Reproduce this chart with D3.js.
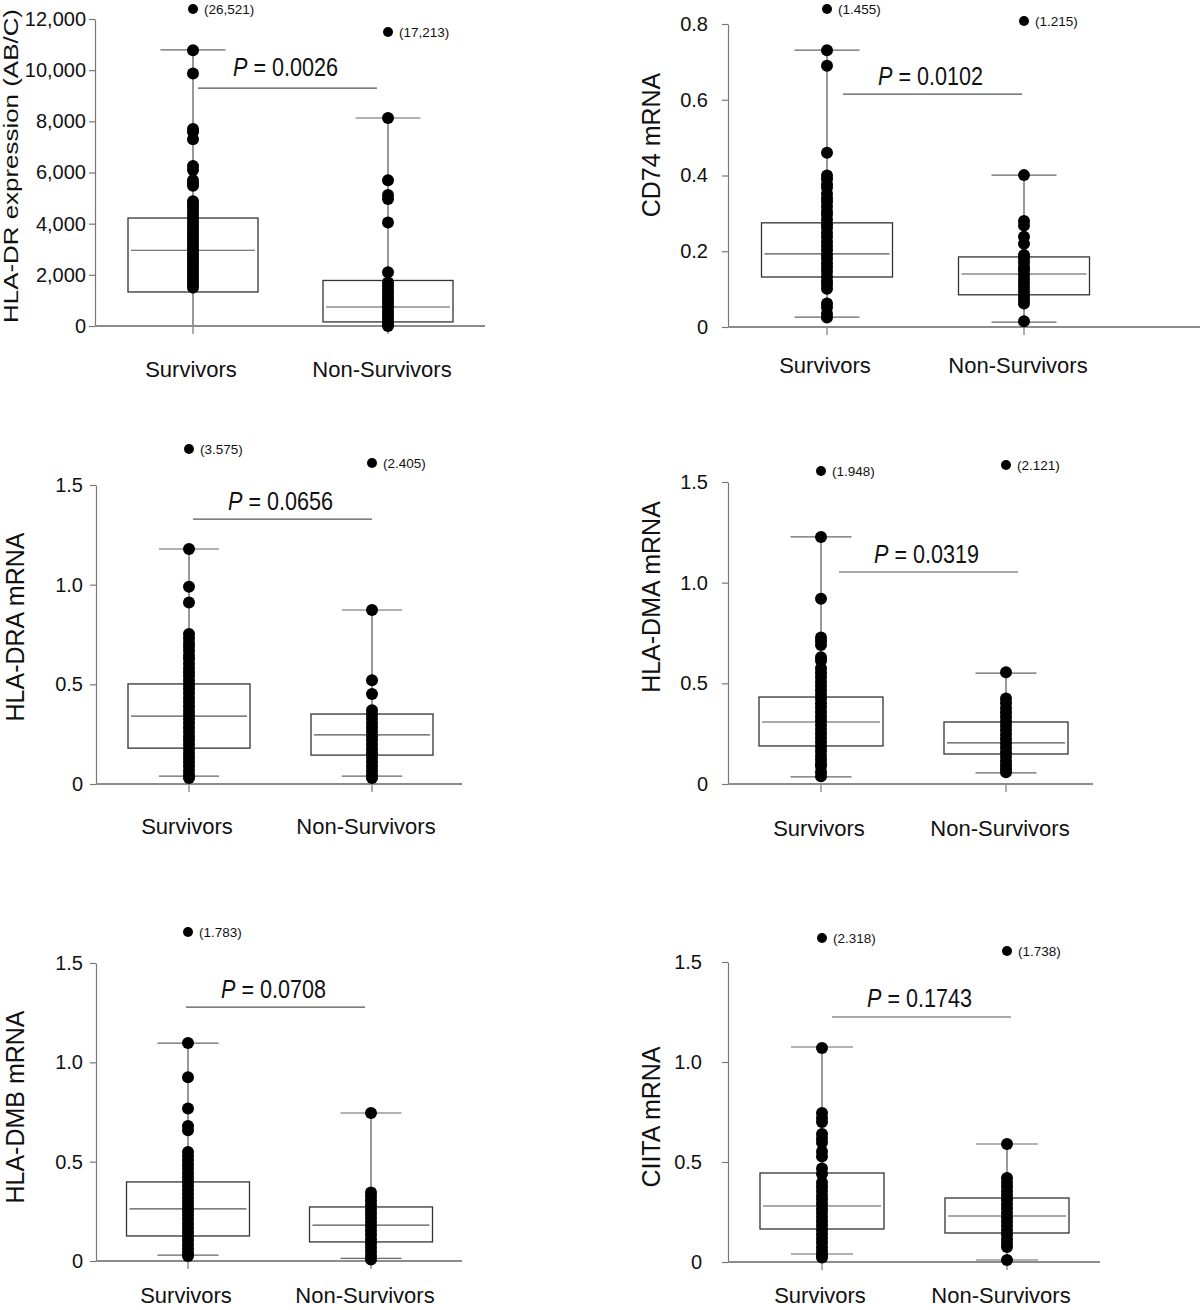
<!DOCTYPE html>
<html><head><meta charset="utf-8">
<script src="https://cdn.jsdelivr.net/npm/d3@7"></script>
<style>
body{margin:0;background:#fff}
svg{display:block}
text{font-family:"Liberation Sans",Arial,Helvetica,sans-serif;fill:#111}
</style>
</head><body><svg id="c" width="1200" height="1310"></svg>
<script>
// ---------------- DATA ----------------
const categories = ["Survivors", "Non-Survivors"];
const yTitles = ["HLA-DR expression (AB/C)", "CD74 mRNA", "HLA-DRA mRNA", "HLA-DMA mRNA", "HLA-DMB mRNA", "CIITA mRNA"];
const pValues = ["0.0026", "0.0102", "0.0656", "0.0319", "0.0708", "0.1743"];
const yTicks = [
  [0, 2000, 4000, 6000, 8000, 10000, 12000],
  [0, 0.2, 0.4, 0.6, 0.8],
  [0, 0.5, 1.0, 1.5],
  [0, 0.5, 1.0, 1.5],
  [0, 0.5, 1.0, 1.5],
  [0, 0.5, 1.0, 1.5]
];
const yMax = [12000, 0.8, 1.5, 1.5, 1.5, 1.5];
// P-value bar level (data units)
const pBarLevel = [9300, 0.615, 1.329, 1.053, 1.278, 1.225];

// box stats: [lowWhisker, q1, median, q3, highWhisker]
const hladrBox = [[0, 1330, 2960, 4220, 10790], [0, 160, 743, 1780, 8130]];
const cd74Box  = [[0.026, 0.132, 0.193, 0.275, 0.731], [0.013, 0.085, 0.140, 0.185, 0.401]];
const draBox   = [[0.040, 0.180, 0.341, 0.502, 1.179], [0.040, 0.145, 0.246, 0.351, 0.873]];
const dmaBox   = [[0.035, 0.189, 0.308, 0.432, 1.227], [0.055, 0.149, 0.204, 0.308, 0.551]];
const dmbBox   = [[0.030, 0.126, 0.262, 0.398, 1.097], [0.013, 0.096, 0.181, 0.272, 0.745]];
const ciitaBox = [[0.040, 0.165, 0.280, 0.445, 1.075], [0.010, 0.145, 0.230, 0.320, 0.590]];

// individual values
const hladrSurv = [10780, 9870, 7700, 7580, 7300, 6250, 6100, 5700, 5580, 5480, 4880, 4760, 4620, 4480, 4330, 4200, 4060, 3920, 3790, 3650, 3520, 3380, 3240, 3110, 2980, 2840, 2700, 2570, 2430, 2300, 2160, 2020, 1890, 1760, 1620, 1500];
const hladrNon  = [8130, 5700, 5120, 4960, 4050, 2100, 1700, 1560, 1420, 1290, 1150, 1010, 880, 740, 610, 470, 340, 200, 80, 0];
const cd74Surv  = [0.731, 0.690, 0.460, 0.400, 0.391, 0.377, 0.368, 0.352, 0.340, 0.331, 0.318, 0.305, 0.297, 0.284, 0.271, 0.262, 0.249, 0.238, 0.226, 0.214, 0.203, 0.191, 0.180, 0.168, 0.157, 0.146, 0.133, 0.121, 0.112, 0.101, 0.062, 0.052, 0.035, 0.025];
const cd74Non   = [0.401, 0.280, 0.268, 0.238, 0.220, 0.190, 0.181, 0.170, 0.158, 0.149, 0.137, 0.126, 0.115, 0.104, 0.093, 0.082, 0.071, 0.062, 0.015];
const draSurv   = [1.179, 0.990, 0.910, 0.752, 0.731, 0.708, 0.690, 0.668, 0.645, 0.627, 0.603, 0.581, 0.560, 0.541, 0.518, 0.497, 0.476, 0.455, 0.431, 0.412, 0.390, 0.368, 0.347, 0.326, 0.305, 0.283, 0.262, 0.240, 0.219, 0.198, 0.176, 0.154, 0.133, 0.112, 0.090, 0.068, 0.047, 0.030];
const draNon    = [0.873, 0.520, 0.452, 0.370, 0.349, 0.327, 0.305, 0.284, 0.262, 0.240, 0.219, 0.197, 0.176, 0.154, 0.132, 0.111, 0.089, 0.068, 0.046, 0.030];
const dmaSurv   = [1.227, 0.920, 0.728, 0.710, 0.690, 0.630, 0.612, 0.575, 0.552, 0.531, 0.509, 0.488, 0.466, 0.444, 0.423, 0.401, 0.380, 0.358, 0.336, 0.315, 0.293, 0.272, 0.250, 0.229, 0.207, 0.185, 0.164, 0.142, 0.121, 0.099, 0.088, 0.060, 0.038];
const dmaNon    = [0.555, 0.425, 0.402, 0.378, 0.356, 0.334, 0.312, 0.290, 0.268, 0.246, 0.224, 0.202, 0.180, 0.158, 0.136, 0.114, 0.092, 0.075, 0.058];
const dmbSurv   = [1.097, 0.925, 0.768, 0.680, 0.658, 0.549, 0.528, 0.507, 0.486, 0.465, 0.443, 0.422, 0.400, 0.379, 0.358, 0.337, 0.316, 0.294, 0.273, 0.252, 0.231, 0.210, 0.188, 0.167, 0.146, 0.125, 0.104, 0.083, 0.062, 0.041, 0.025];
const dmbNon    = [0.745, 0.345, 0.325, 0.303, 0.282, 0.260, 0.239, 0.218, 0.196, 0.175, 0.153, 0.132, 0.110, 0.089, 0.068, 0.046, 0.025, 0.008];
const ciitaSurv = [1.070, 0.745, 0.720, 0.700, 0.640, 0.618, 0.598, 0.552, 0.528, 0.468, 0.440, 0.398, 0.376, 0.355, 0.333, 0.312, 0.290, 0.268, 0.247, 0.225, 0.204, 0.182, 0.160, 0.139, 0.117, 0.096, 0.074, 0.053, 0.035, 0.022];
const ciitaNon  = [0.590, 0.420, 0.398, 0.376, 0.354, 0.333, 0.311, 0.289, 0.267, 0.245, 0.223, 0.201, 0.180, 0.158, 0.136, 0.114, 0.093, 0.075, 0.010];

// off-scale outliers: plotted level (above axis break) and true value label
const outlierLevel = [[12390, 11490], [0.8396, 0.808], [1.681, 1.610], [1.555, 1.584], [1.656, null], [1.62, 1.555]];
const outlierLabel = [["(26,521)", "(17,213)"], ["(1.455)", "(1.215)"], ["(3.575)", "(2.405)"], ["(1.948)", "(2.121)"], ["(1.783)", null], ["(2.318)", "(1.738)"]];

const boxes  = [hladrBox, cd74Box, draBox, dmaBox, dmbBox, ciitaBox];
const points = [[hladrSurv, hladrNon], [cd74Surv, cd74Non], [draSurv, draNon], [dmaSurv, dmaNon], [dmbSurv, dmbNon], [ciitaSurv, ciitaNon]];

// ---------------- LAYOUT ----------------
const layout = [
  {ax:95,  yTop:19,  yBot:326,  xEnd:485,  cx:[193,388],  boxW:130, capW:65, tickPad:3,  titleX:18,  titleY:166,  titleSize:21, titleLen:314, catY:377,  pOff:5,  pGap:12},
  {ax:728, yTop:24,  yBot:327,  xEnd:1200, cx:[827,1024], boxW:131, capW:65, tickPad:14, titleX:660, titleY:145,  titleSize:25, titleLen:0,   catY:373,  pOff:16, pGap:9},
  {ax:96,  yTop:485, yBot:784,  xEnd:462,  cx:[189,372],  boxW:122, capW:60, tickPad:7,  titleX:24,  titleY:627,  titleSize:25, titleLen:0,   catY:834,  pOff:4,  pGap:9},
  {ax:728, yTop:482, yBot:784,  xEnd:1093, cx:[821,1006], boxW:124, capW:61, tickPad:14, titleX:660, titleY:597,  titleSize:25, titleLen:0,   catY:836,  pOff:18, pGap:9},
  {ax:96,  yTop:963, yBot:1261, xEnd:462,  cx:[188,371],  boxW:123, capW:61, tickPad:7,  titleX:24,  titleY:1107, titleSize:25, titleLen:0,   catY:1303, pOff:-2, pGap:9},
  {ax:728, yTop:962, yBot:1262, xEnd:1100, cx:[822,1007], boxW:124, capW:62, tickPad:20, titleX:660, titleY:1117, titleSize:25, titleLen:0,   catY:1303, pOff:10, pGap:10}
];

const svg = d3.select("#c");
const FONT = '"Liberation Sans",Arial,Helvetica,sans-serif';

layout.forEach((L, i) => {
  const g = svg.append("g");
  const y = d3.scaleLinear().domain([0, yMax[i]]).range([L.yBot, L.yTop]);
  const x = d3.scalePoint().domain(categories).range(L.cx);

  // y axis
  const fmt = v => v === 0 ? "0" : (yMax[i] > 100 ? d3.format(",")(v) : d3.format(".1f")(v));
  const ya = g.append("g").attr("transform", `translate(${L.ax},0)`)
    .call(d3.axisLeft(y).tickValues(yTicks[i]).tickFormat(fmt).tickSize(6).tickSizeOuter(0).tickPadding(L.tickPad));
  ya.select(".domain").attr("stroke", "#777").attr("stroke-width", 1.2);
  ya.selectAll(".tick line").attr("stroke", "#777").attr("stroke-width", 1.2);
  ya.selectAll(".tick text").attr("font-size", 20).attr("font-family", FONT).attr("fill", "#111");

  // y title
  const tt = g.append("text")
    .attr("transform", `translate(${L.titleX},${L.titleY}) rotate(-90)`)
    .attr("text-anchor", "middle").attr("font-size", L.titleSize).text(yTitles[i]);
  if (L.titleLen) tt.attr("textLength", L.titleLen).attr("lengthAdjust", "spacingAndGlyphs");

  // category ticks below axis
  categories.forEach(c => {
    g.append("line").attr("x1", x(c)).attr("x2", x(c)).attr("y1", L.yBot).attr("y2", L.yBot + 8)
      .attr("stroke", "#777").attr("stroke-width", 1.2);
  });

  // whiskers, caps, boxes
  categories.forEach((c, k) => {
    const [lo, q1, med, q3, hi] = boxes[i][k];
    const cx = x(c);
    g.append("line").attr("x1", cx).attr("x2", cx).attr("y1", y(lo)).attr("y2", y(hi))
      .attr("stroke", "#555").attr("stroke-width", 1.2);
    [lo, hi].forEach(v => {
      g.append("line").attr("x1", cx - L.capW / 2).attr("x2", cx + L.capW / 2)
        .attr("y1", y(v)).attr("y2", y(v)).attr("stroke", "#666").attr("stroke-width", 1.2);
    });
    g.append("rect").attr("x", cx - L.boxW / 2).attr("y", y(q3)).attr("width", L.boxW).attr("height", y(q1) - y(q3))
      .attr("fill", "#fff").attr("stroke", "#333").attr("stroke-width", 1.3);
    g.append("line").attr("x1", cx - L.boxW / 2 + 3).attr("x2", cx + L.boxW / 2 - 3)
      .attr("y1", y(med)).attr("y2", y(med)).attr("stroke", "#555").attr("stroke-width", 1.2);
  });

  // x axis (drawn over box bottoms)
  g.append("line").attr("x1", L.ax).attr("x2", L.xEnd).attr("y1", L.yBot).attr("y2", L.yBot)
    .attr("stroke", "#8c8c8c").attr("stroke-width", 2.2);

  // points
  categories.forEach((c, k) => {
    g.append("g").selectAll("circle").data(points[i][k]).join("circle")
      .attr("cx", x(c)).attr("cy", d => y(d)).attr("r", 6).attr("fill", "#000");
  });

  // outliers
  categories.forEach((c, k) => {
    const lv = outlierLevel[i][k];
    if (lv == null) return;
    g.append("circle").attr("cx", x(c)).attr("cy", y(lv)).attr("r", 5).attr("fill", "#000");
    g.append("text").attr("x", x(c) + 11).attr("y", y(lv)).attr("dy", "0.35em")
      .attr("font-size", 13.5).text(outlierLabel[i][k]);
  });

  // P value bar
  const px1 = x(categories[0]) + L.pOff, px2 = px1 + 179;
  const py = y(pBarLevel[i]);
  g.append("line").attr("x1", px1).attr("x2", px2).attr("y1", py).attr("y2", py)
    .attr("stroke", "#555").attr("stroke-width", 1.2);
  const t = g.append("text").attr("x", (px1 + px2) / 2 - 2).attr("y", py - L.pGap)
    .attr("text-anchor", "middle").attr("font-size", 25)
    .attr("textLength", 105).attr("lengthAdjust", "spacingAndGlyphs");
  t.append("tspan").attr("font-style", "italic").text("P");
  t.append("tspan").text(" = " + pValues[i]);

  // category labels
  categories.forEach(c => {
    g.append("text").attr("x", x(c) - (c === "Survivors" ? 2 : 6)).attr("y", L.catY)
      .attr("text-anchor", "middle").attr("font-size", 22).text(c);
  });
});
</script>
</body></html>
